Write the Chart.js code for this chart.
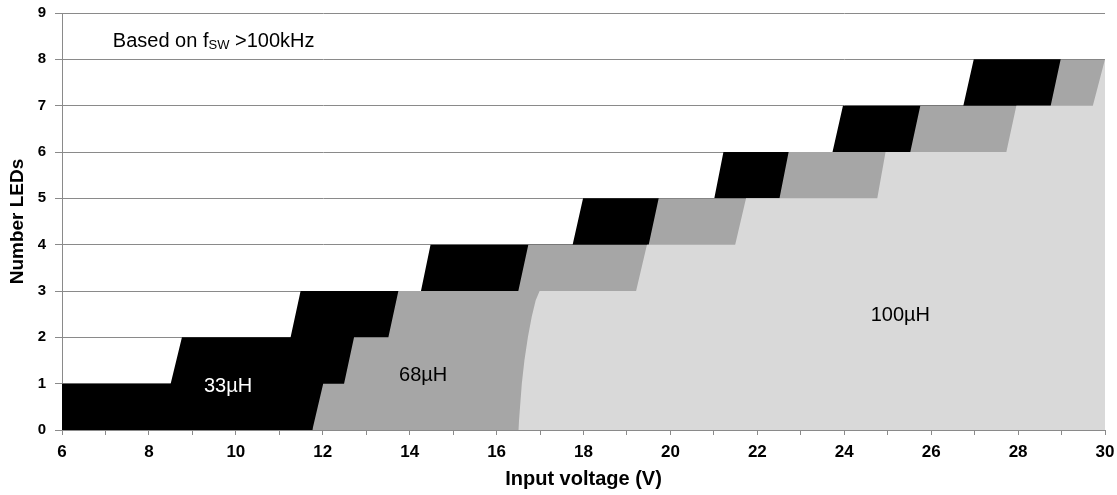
<!DOCTYPE html>
<html>
<head>
<meta charset="utf-8">
<script src="https://cdn.jsdelivr.net/npm/chart.js@4/dist/chart.umd.min.js"></script>
<style>
  html, body { margin: 0; padding: 0; background: #ffffff; }
  #wrap { position: relative; width: 1117px; height: 495px; }
</style>
</head>
<body>
<div id="wrap"><canvas id="c" width="1117" height="495"></canvas></div>
<script>
// ---- Data ----
const xTickValues = [6, 8, 10, 12, 14, 16, 18, 20, 22, 24, 26, 28, 30];
const yTickValues = [0, 1, 2, 3, 4, 5, 6, 7, 8, 9];

// 33µH region upper boundary
const voltage33 = [6, 8.50, 8.76, 11.26, 11.49, 14.26, 14.48, 17.75, 17.99, 21.01, 21.22, 23.73, 23.97, 26.74, 26.98, 30];
const leds33    = [1, 1,    2,    2,     3,     3,     4,     4,     5,     5,     6,     6,     7,     7,     8,     8];

// 68µH region upper boundary
const voltage68 = [11.76, 12.01, 12.49, 12.72, 13.51, 13.74, 16.50, 16.73, 19.50, 19.73, 22.51, 22.72, 25.52, 25.75, 28.75, 28.98, 30];
const leds68    = [0,     1,     1,     2,     2,     3,     3,     4,     4,     5,     5,     6,     6,     7,     7,     8,     8];

// 100µH region upper boundary
const voltage100 = [16.50, 16.54, 16.58, 16.64, 16.72, 16.81, 16.90, 16.99, 19.21, 19.46, 21.49, 21.74, 24.76, 24.95, 27.73, 27.96, 29.72, 30];
const leds100    = [0,     0.5,   1,     1.5,   2,     2.45,  2.8,   3,     3,     4,     4,     5,     5,     6,     6,     7,     7,     8];

const seriesNames = ['100µH', '68µH', '33µH'];

// ---- Build chart ----
const toPoints = (xs, ys) => xs.map((x, i) => ({ x: x, y: ys[i] }));
const FONT = '"Liberation Sans", Arial, Helvetica, sans-serif';
const GRID = '#8a8a8a';

const annotations = [
  { text: '33µH', x: 9.82, y: 0.94, color: '#ffffff', align: 'center' },
  { text: '68µH', x: 14.31, y: 1.17, color: '#000000', align: 'center' },
  { text: '100µH', x: 25.29, y: 2.48, color: '#000000', align: 'center' }
];

const textPlugin = {
  id: 'regionText',
  afterDatasetsDraw(chart) {
    const { ctx, scales: { x, y } } = chart;
    ctx.save();
    ctx.textBaseline = 'middle';
    ctx.font = '20px ' + FONT;
    annotations.forEach(a => {
      ctx.fillStyle = a.color;
      ctx.textAlign = a.align;
      ctx.fillText(a.text, x.getPixelForValue(a.x), y.getPixelForValue(a.y));
    });
    // Note "Based on f_SW >100kHz"
    let px = x.getPixelForValue(7.17);
    const py = y.getPixelForValue(8.39);
    ctx.textAlign = 'left';
    ctx.fillStyle = '#000000';
    ctx.font = '20px ' + FONT;
    const t1 = 'Based on f';
    ctx.fillText(t1, px, py);
    px += ctx.measureText(t1).width;
    ctx.font = '13px ' + FONT;
    const t2 = 'SW';
    ctx.fillText(t2, px, py + 4);
    px += ctx.measureText(t2).width;
    ctx.font = '20px ' + FONT;
    ctx.fillText(' >100kHz', px, py);
    ctx.restore();
  }
};

new Chart(document.getElementById('c'), {
  type: 'line',
  data: {
    datasets: [
      { label: seriesNames[0], data: toPoints(voltage100, leds100), backgroundColor: '#d9d9d9' },
      { label: seriesNames[1], data: toPoints(voltage68, leds68), backgroundColor: '#a6a6a6' },
      { label: seriesNames[2], data: toPoints(voltage33, leds33), backgroundColor: '#000000' }
    ].map(d => Object.assign(d, {
      fill: 'origin', borderWidth: 0, borderColor: 'rgba(0,0,0,0)', pointRadius: 0, tension: 0
    }))
  },
  options: {
    responsive: false,
    animation: false,
    events: [],
    layout: { padding: { top: 13, right: 12, left: 0, bottom: 0 } },
    plugins: { legend: { display: false }, tooltip: { enabled: false } },
    scales: {
      x: {
        type: 'linear', min: 6, max: 30,
        afterFit(s) { s.height = 65; s.paddingLeft = 0; s.paddingRight = 0; },
        afterBuildTicks(s) { s.ticks = []; for (let v = 6; v <= 30; v++) s.ticks.push({ value: v }); },
        ticks: {
          autoSkip: false, maxRotation: 0, padding: 7, color: '#000000',
          font: { family: FONT, size: 17, weight: 'bold' },
          callback: (v) => xTickValues.includes(v) ? String(v) : ''
        },
        grid: { drawOnChartArea: false, drawTicks: true, tickLength: 5, color: GRID, lineWidth: 1 },
        border: { display: true, color: GRID, width: 1 },
        title: { display: true, text: 'Input voltage (V)', color: '#000000',
                 font: { family: FONT, size: 20, weight: 'bold' }, padding: { top: 0, bottom: 4 } }
      },
      y: {
        min: 0, max: 9,
        afterFit(s) { s.width = 62; s.paddingTop = 0; s.paddingBottom = 0; },
        afterBuildTicks(s) { s.ticks = yTickValues.map(v => ({ value: v })); },
        ticks: { padding: 9, color: '#000000', font: { family: FONT, size: 15, weight: 'bold' } },
        grid: { drawOnChartArea: true, drawTicks: true, tickLength: 7, color: GRID, lineWidth: 1 },
        border: { display: true, color: GRID, width: 1 },
        title: { display: true, text: 'Number LEDs', color: '#000000',
                 font: { family: FONT, size: 19, weight: 'bold' }, padding: { top: 6, bottom: 0 } }
      }
    }
  },
  plugins: [textPlugin]
});
</script>
</body>
</html>
